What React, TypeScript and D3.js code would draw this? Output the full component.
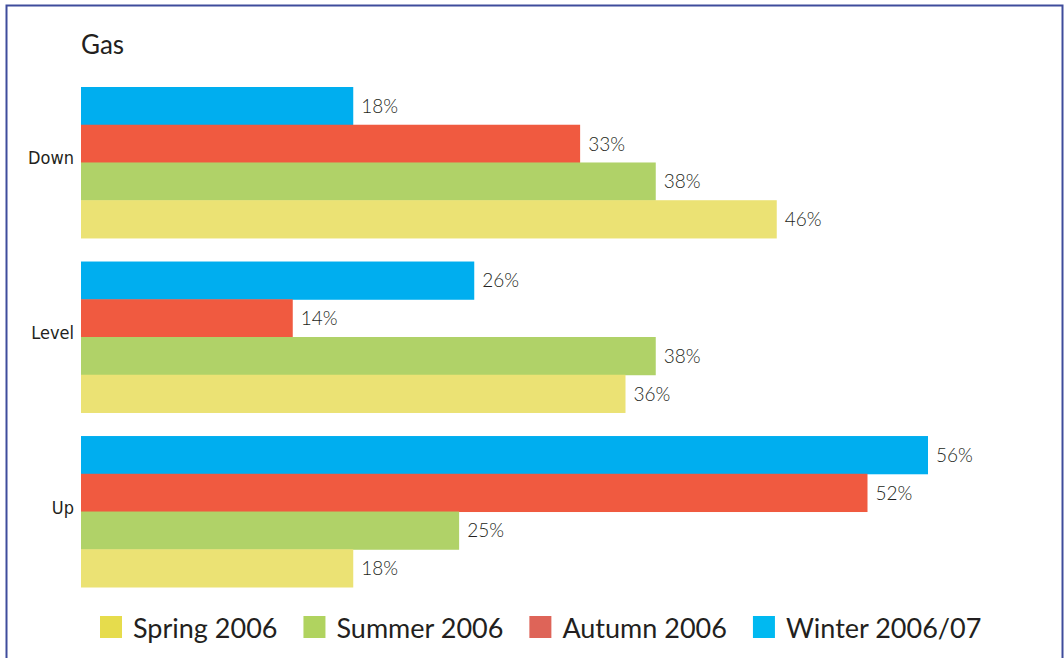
import React, { useEffect, useRef } from 'react';
import * as d3 from 'd3';

const categories = ['Down', 'Level', 'Up'];
const seasons = ['Winter 2006/07', 'Autumn 2006', 'Summer 2006', 'Spring 2006'];
const legendOrder = ['Spring 2006', 'Summer 2006', 'Autumn 2006', 'Winter 2006/07'];
const winter = [18, 26, 56];
const autumn = [33, 14, 52];
const summer = [38, 38, 25];
const spring = [46, 36, 18];

const COLORS: Record<string, string> = {
  'Winter 2006/07': '#00aeef',
  'Autumn 2006': '#f05a40',
  'Summer 2006': '#b0d268',
  'Spring 2006': '#ebe274',
};
const LEGEND_COLORS: Record<string, string> = {
  'Winter 2006/07': '#00b9f1',
  'Autumn 2006': '#de6458',
  'Summer 2006': '#b0d35f',
  'Spring 2006': '#e6dc4c',
};

const W = 1064, H = 658;
const NARROW = '"Liberation Sans Narrow", "DejaVu Sans Condensed", sans-serif';
const LIGHT = 'Lato, "Open Sans", sans-serif';

export default function App() {
  const ref = useRef<SVGSVGElement>(null);

  useEffect(() => {
    const svg = d3.select(ref.current);
    svg.selectAll('*').remove();
    const M = { top: 87, left: 81, right: 136, bottom: 71 };

    const series = seasons.map((s, si) => ({ name: s, values: [winter, autumn, summer, spring][si] }));

    const x = d3.scaleLinear().domain([0, 56]).range([M.left, W - M.right]);
    const y0 = d3.scaleBand().domain(categories).range([M.top, H - M.bottom]).paddingInner(0.135).paddingOuter(0);
    const y1 = d3.scaleBand().domain(seasons).range([0, y0.bandwidth()]);

    svg.append('rect').attr('x', 6.5).attr('y', 5.5).attr('width', W - 8).attr('height', H)
      .attr('fill', '#fff').attr('stroke', '#3f4c9c').attr('stroke-width', 2);

    svg.append('text').text('Gas').attr('x', M.left).attr('y', 54)
      .attr('font-family', LIGHT).attr('font-size', 26).attr('fill', '#231f20');

    categories.forEach((c, ci) => {
      const g = svg.append('g').attr('transform', `translate(0,${y0(c)})`);
      g.append('text').text(c).attr('x', M.left - 7).attr('y', y0.bandwidth() / 2 + 2)
        .attr('text-anchor', 'end').attr('font-family', NARROW).attr('font-size', 18).attr('fill', '#231f20');
      series.forEach(s => {
        const v = s.values[ci];
        g.append('rect').attr('x', x(0)).attr('y', y1(s.name)!).attr('width', x(v) - x(0))
          .attr('height', y1.bandwidth() + 0.5).attr('fill', COLORS[s.name]);
        g.append('text').text(`${v}%`).attr('x', x(v) + 8).attr('y', y1(s.name)! + y1.bandwidth() / 2 + 7)
          .attr('font-family', LIGHT).attr('font-weight', 300).attr('font-size', 19).attr('fill', '#231f20');
      });
    });

    const lg = svg.append('g').attr('transform', `translate(100,616)`);
    let cx = 0;
    legendOrder.forEach(name => {
      lg.append('rect').attr('x', cx).attr('y', 0).attr('width', 22).attr('height', 22).attr('fill', LEGEND_COLORS[name]);
      const t = lg.append('text').text(name).attr('x', cx + 33).attr('y', 22)
        .attr('font-family', LIGHT).attr('font-size', 27).attr('fill', '#231f20');
      const tw = (t.node() as SVGTextElement).getComputedTextLength();
      cx += 33 + tw + 26;
    });
  }, []);

  return (
    <div style={{ position: 'fixed', left: 0, top: 0, width: W, height: H, background: '#fff' }}>
      <svg ref={ref} width={W} height={H} />
    </div>
  );
}
